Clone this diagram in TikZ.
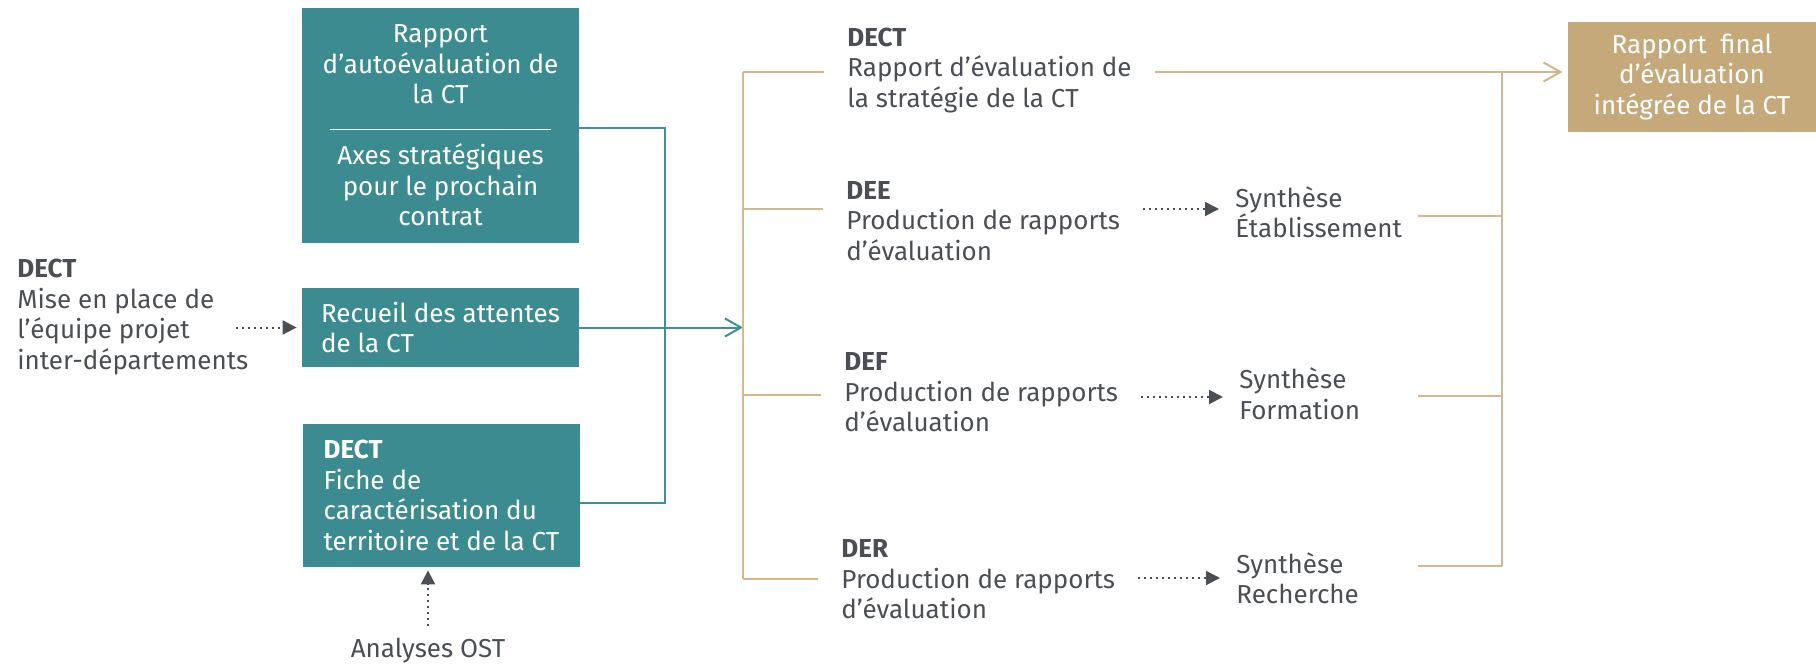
\documentclass[tikz,border=0pt]{standalone}
\usepackage{fontspec}
\setmainfont{Fira Sans}
\usetikzlibrary{arrows.meta}
\definecolor{ctteal}{RGB}{60,139,144}
\definecolor{cttealline}{RGB}{62,143,152}
\definecolor{cttan}{RGB}{198,169,123}
\definecolor{cttanline}{RGB}{212,183,138}
\definecolor{ctdark}{RGB}{75,79,84}
\tikzset{
  txt/.style={font=\fontsize{13}{15.25}\selectfont},
  plaintxt/.style={txt, text=ctdark, inner sep=0pt},
  tealbox/.style={txt, fill=ctteal, text=white, inner ysep=0pt, inner xsep=4pt, minimum width=138.5pt},
  tanbox/.style={txt, fill=cttan, text=white, inner sep=0pt, align=center, minimum width=124pt, minimum height=55pt},
  dept/.style={plaintxt, anchor=west, align=left, inner xsep=11.5pt},
  synth/.style={plaintxt, anchor=west, align=left, inner xsep=8pt},
  tealline/.style={cttealline, line width=1pt},
  tanline/.style={cttanline, line width=1pt},
  dotarrow/.style={ctdark, line width=1pt, dash pattern=on 1pt off 2pt, -{Triangle[length=7pt,width=7pt]}}
}
\begin{document}
\begin{tikzpicture}[x=0.5pt, y=-0.5pt]
  \useasboundingbox (0,0) rectangle (1816,664);
  \draw
    (440.5,125.5) node[tealbox, align=center, minimum height=117.5pt] (auto)
      {Rapport\\d’autoévaluation de\\la CT\\\raisebox{2pt}{\color{white}\rule{110.5pt}{0.75pt}}\\Axes stratégiques\\pour le prochain\\contrat}
    (440.5,327.5) node[tealbox, align=left, minimum height=39.5pt] (attentes) {Recueil des attentes\\de la CT}
    (441.5,495.5) node[tealbox, align=left, minimum height=71.5pt] (fiche)
      {\textbf{DECT}\\Fiche de\\caractérisation du\\territoire et de la CT}
    (17,317) node[plaintxt, anchor=west, align=left] (mise)
      {\textbf{DECT}\\Mise en place de\\l’équipe projet\\inter-départements}
    (428,651) node[plaintxt] (ost) {Analyses OST}
    (824,70.5) node[dept] (strat) {\textbf{DECT}\\Rapport d’évaluation de\\la stratégie de la CT}
    (823,221) node[dept] (dee) {\textbf{DEE}\\Production de rapports\\d’évaluation}
    (821,392.5) node[dept] (def) {\textbf{DEF}\\Production de rapports\\d’évaluation}
    (818,579.5) node[dept] (der) {\textbf{DER}\\Production de rapports\\d’évaluation}
    (1219,212) node[synth] (syE) {Synthèse\\Établissement}
    (1223,393.5) node[synth] (syF) {Synthèse\\Formation}
    (1220,578) node[synth] (syR) {Synthèse\\Recherche}
    (1692,77) node[tanbox] (final) {Rapport\ \ final\\d’évaluation\\intégrée de la CT};
  \coordinate (tbus) at (665,0);
  \coordinate (ltrunk) at (743,0);
  \coordinate (rb) at (1418,0);
  \coordinate (rtrunk) at (1502,0);
  \begin{scope}[dotarrow]
    \draw ([xshift=-33pt]attentes.west) to ([xshift=-2.5pt]attentes.west);
    \draw ([yshift=6pt]ost.north) to ([yshift=-1.5pt]ost.north |- fiche.south);
    \draw (dee.east |- 0,209) to (syE.west |- 0,209);
    \draw (def.east |- 0,397) to (syF.west |- 0,397);
    \draw (der.east |- 0,578) to (syR.west |- 0,578);
  \end{scope}
  \begin{scope}[tealline]
    \draw (auto.east |- 0,128) to (tbus |- 0,128) to (tbus |- 0,503) to (fiche.east |- 0,503);
    \draw[-{Straight Barb[length=8pt,width=9pt]}] (attentes.east) to (ltrunk |- attentes.east);
  \end{scope}
  \begin{scope}[tanline]
    \draw (ltrunk |- 0,72) to (ltrunk |- 0,579);
    \draw (ltrunk |- 0,72) to (strat.west |- 0,72);
    \draw (ltrunk |- 0,209) to (dee.west |- 0,209);
    \draw (ltrunk |- 0,395) to (def.west |- 0,395);
    \draw (ltrunk |- 0,579) to (der.west |- 0,579);
    \draw[-{Straight Barb[length=8.5pt,width=9.5pt]}, shorten >=2.5pt] (strat.east |- 0,72) to (final.west |- 0,72);
    \draw (rtrunk |- 0,72) to (rtrunk |- 0,566);
    \draw (rb |- 0,216) to (rtrunk |- 0,216);
    \draw (rb |- 0,396) to (rtrunk |- 0,396);
    \draw (rb |- 0,566) to (rtrunk |- 0,566);
  \end{scope}
\end{tikzpicture}
\end{document}
